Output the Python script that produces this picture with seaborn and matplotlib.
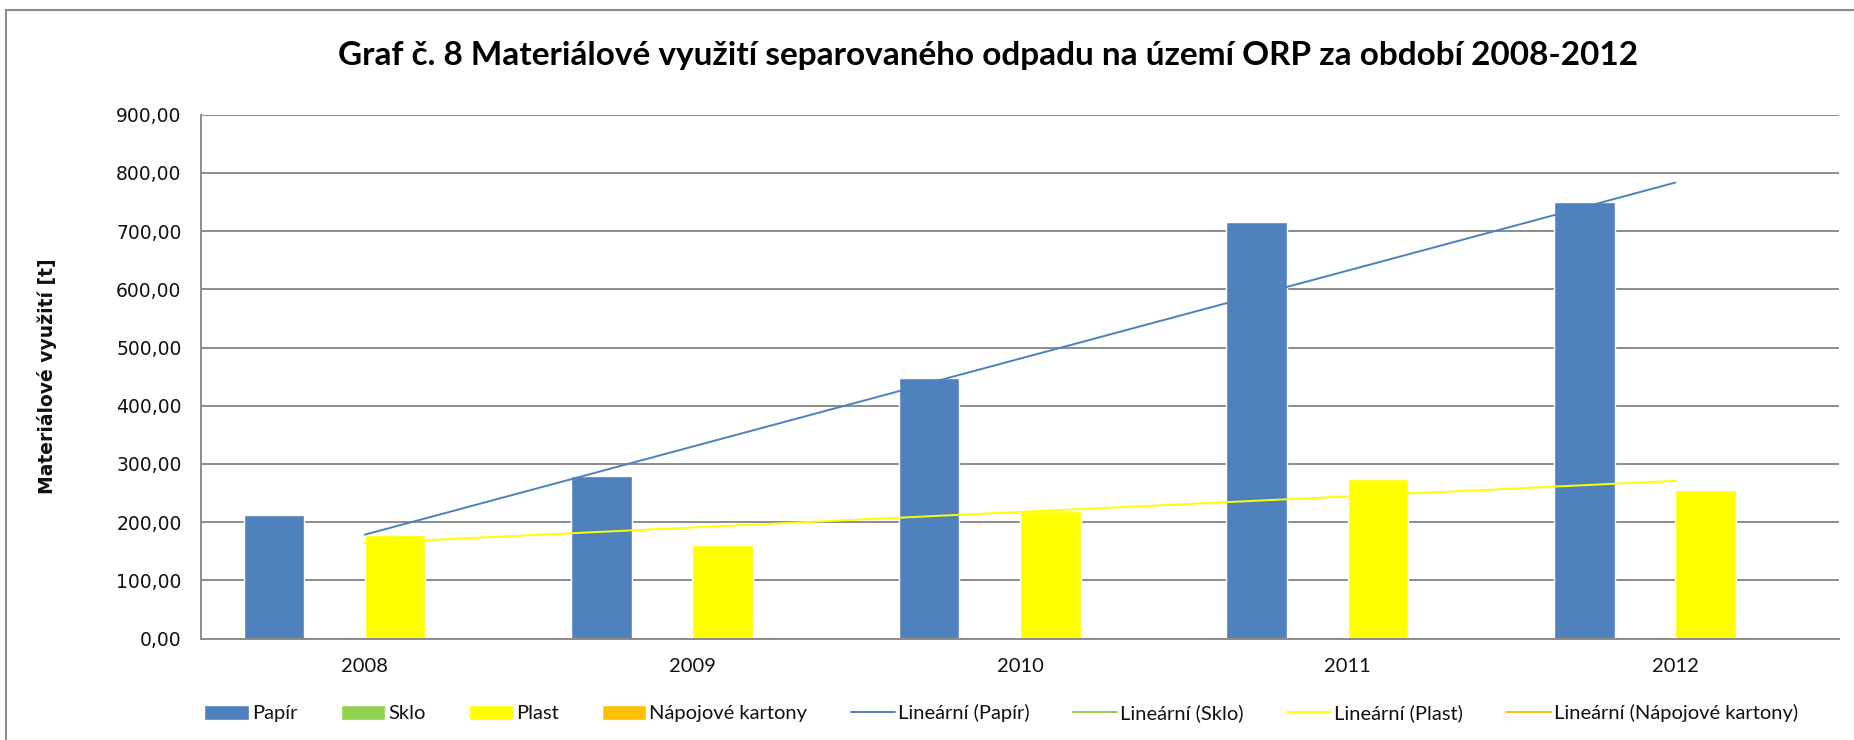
import numpy as np
import pandas as pd
import matplotlib
matplotlib.use("Agg")
import matplotlib.pyplot as plt
from matplotlib.patches import Patch, Rectangle
from matplotlib.lines import Line2D
from matplotlib.ticker import FuncFormatter, FixedLocator
import seaborn as sns

# data
years = ["2008", "2009", "2010", "2011", "2012"]
materials = ["Papír", "Sklo", "Plast", "Nápojové kartony"]
papir = [212, 280, 447, 716, 750]
sklo = [0, 0, 0, 0, 0]
plast = [178, 161, 220, 274, 255]
kartony = [0, 0, 0, 0, 0]
colors = ["#4F81BD", "#92D050", "#FFFF00", "#FFC000"]

series = {"Papír": papir, "Sklo": sklo, "Plast": plast, "Nápojové kartony": kartony}
rows = []
for m in materials:
    for y, v in zip(years, series[m]):
        rows.append({"rok": y, "material": m, "hodnota": v})
df = pd.DataFrame(rows)

sns.set_style("white")
narrow = ["Lato", "DejaVu Sans"]
plt.rcParams["font.family"] = ["DejaVu Sans"]
txt = "#111111"

fig = plt.figure(figsize=(18.54, 7.4), dpi=100)
ax = fig.add_axes([0.1084, 0.137, 0.8836, 0.708])

sns.barplot(data=df, x="rok", y="hodnota", hue="material", hue_order=materials,
            palette=colors, saturation=1, width=0.74, gap=0, legend=False, ax=ax)

# linear trendlines (Excel "Lineární")
xs = np.arange(len(years))
for m, c in zip(materials, colors):
    k, q = np.polyfit(xs + 1, series[m], 1)
    z = 1 if max(series[m]) == 0 else 3
    ax.plot(xs, k * (xs + 1) + q, color=c, lw=1.4, zorder=z)

ax.set_xlim(-0.5, len(years) - 0.5)
ax.set_ylim(0, 900)
ax.set_yticks(range(0, 901, 100))
ax.yaxis.set_major_formatter(FuncFormatter(lambda v, p: f"{v:.2f}".replace(".", ",")))
ax.grid(axis="y", color="#8c8c8c", lw=1.4)
ax.set_axisbelow(True)

# ticks at category boundaries, labels in the middle
ax.xaxis.set_major_locator(FixedLocator(np.arange(-0.5, len(years), 1.0)))
ax.xaxis.set_minor_locator(FixedLocator(xs))
ax.set_xticklabels([], minor=False)
ax.set_xticklabels(years, minor=True)
ax.tick_params(axis="x", which="major", length=8, width=1.2, color="#8c8c8c", direction="out")
ax.tick_params(axis="x", which="minor", length=0, pad=14, labelsize=14.5, labelcolor=txt)
for t in ax.get_xticklabels(minor=True):
    t.set_family(narrow)
ax.tick_params(axis="y", length=8, width=1.2, color="#8c8c8c", direction="out",
               labelsize=13.5, labelcolor=txt, pad=6)

for s in ["top", "right"]:
    ax.spines[s].set_visible(False)
for s in ["left", "bottom"]:
    ax.spines[s].set_color("#8c8c8c")
    ax.spines[s].set_linewidth(1.4)

ax.set_xlabel("")
ax.set_ylabel("Materiálové využití [t]", fontsize=13.5, fontweight="bold", color=txt)
ax.yaxis.set_label_coords(-0.088, 0.5)

fig.text(0.533, 0.925, "Graf č. 8 Materiálové využití separovaného odpadu na území ORP za období 2008-2012",
         ha="center", va="center", fontsize=24, fontweight="bold", family=narrow, color="black")

handles = [Patch(facecolor=c, label=m) for m, c in zip(materials, colors)]
handles += [Line2D([], [], color=c, lw=1.4, label=f"Lineární ({m})") for m, c in zip(materials, colors)]
leg = fig.legend(handles=handles, loc="center", bbox_to_anchor=(0.54, 0.036), ncol=8,
                 frameon=False, prop={"family": narrow, "size": 14.5},
                 handlelength=2.2, handleheight=0.75, handletextpad=0.15, columnspacing=2.15)
for t in leg.get_texts():
    t.set_color(txt)

# outer chart border
fig.patches.append(Rectangle((0.003, -0.1), 1.2, 1.086, transform=fig.transFigure,
                             fill=False, edgecolor="#8c8c8c", lw=1.5))

fig.savefig("out.png", dpi=100)
